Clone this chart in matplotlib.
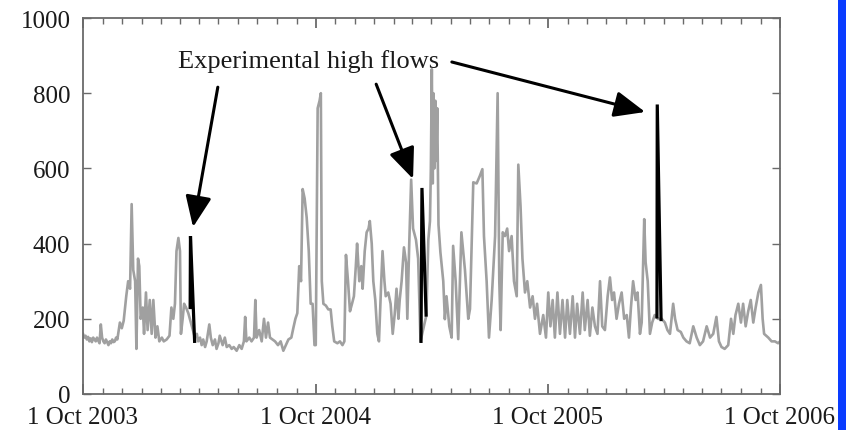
import numpy as np
import matplotlib
matplotlib.use("Agg")
import matplotlib.pyplot as plt
import matplotlib.dates as mdates
from matplotlib.patches import Rectangle

# ---- data: days since 1 Oct 2003, daily flow ----
flow_days = [
    0, 2, 4, 6, 8, 10, 12, 14, 16, 18, 20, 22, 24, 26, 28, 30, 32, 34, 36, 38, 40, 42, 44, 46, 48, 50, 52, 54,
    58, 61, 64, 68, 71, 74, 76.5, 79, 82, 84, 86.5, 88.5, 90.7, 94, 96, 99, 101.6, 105, 108, 110.6, 114, 117, 120,
    124, 127, 131.5, 136, 139, 142, 144.6, 147, 150, 152.5, 154, 156.7, 159, 162, 165.6, 168,
    176, 179, 181, 184, 186.6, 189, 192, 194.5, 198.6, 201, 204, 207.5, 210, 213, 215, 219.6, 223, 226, 230,
    233.8, 237, 241.6, 245.8, 249.5, 253, 255, 257, 261.5, 265, 268.9, 271, 273, 277, 281, 284.6, 287.7, 291,
    294, 298, 302, 306.6, 310.8, 315, 319, 323, 327.6, 330.7, 334, 337, 340, 342.8, 345.4, 348.5, 351.7, 355,
    358, 361, 364, 366, 369, 372, 374, 375.5, 378, 382, 385.7, 389.4, 392, 395, 400, 404, 408, 411, 413.5,
    416.7, 419.8, 423, 426, 429, 431, 434.5, 437.6, 439.7, 443, 446, 449, 451, 454, 456.5, 459.6, 462.8, 465.4,
    469, 471, 474, 476, 480, 483.7, 487, 490, 493, 496, 498, 501, 504.7, 508, 510, 513, 516, 519, 523.6, 527, 530.7,
    540, 543, 545.6, 547, 548.5, 550, 551, 552.5, 554, 555.5, 557, 559, 562, 566.5, 569, 571.6, 576, 579.7, 582,
    586, 590, 595, 600.6, 605.8, 608.5, 613.7, 619, 624, 628, 630.5, 634.7, 638.4, 642.6, 648, 652, 654.6, 656.7,
    660, 663.5, 667, 670, 674, 677.7, 682, 684.5, 688, 691, 695, 698.6, 703, 707, 710.7, 714, 718.6, 723.7, 728,
    731.6, 735, 738.5, 742, 746, 750, 754, 758, 761.5, 765.7, 770, 773.6, 777, 781.4, 785.7, 789, 793.5, 797, 801,
    805, 809, 813, 816.5, 820.7, 825, 828.6, 832, 835, 839, 842.8, 847, 851, 855, 858.5, 861.6, 865, 869, 872,
    875.8, 878.5, 882.5, 884.7, 888, 891.5, 895, 899, 904, 910, 915, 919, 923, 928, 931, 935, 940, 944, 949, 954,
    959.6, 965, 970, 975, 980.7, 986, 991, 996, 1000, 1004, 1009, 1014.6, 1019, 1022.6, 1026, 1030.4, 1034.6,
    1038, 1042, 1046, 1050, 1054, 1057.7, 1062, 1066, 1068.7, 1071, 1077.6, 1082.8, 1088, 1093, 1096,
]
flow_vals = [
    160, 150, 155, 145, 152, 140, 148, 138, 150, 145, 140, 150, 142, 135, 185, 150, 140, 135, 145, 138, 130, 140, 135, 145, 138, 140, 150, 145,
    190, 175, 195, 260, 300, 280, 505, 330, 300, 120, 360, 340, 200, 230, 160, 270, 170, 250, 160, 250, 150, 180, 140,
    150, 140, 145, 155, 230, 200, 240, 380, 415, 380, 160, 200, 240, 230, 215, 200,
    150, 160, 140, 150, 130, 145, 125, 140, 185, 150, 130, 145, 120, 135, 155, 130, 150, 125, 130,
    120, 125, 115, 130, 120, 140, 205, 140, 150, 140, 150, 250, 150, 170, 140, 200, 150, 190,
    150, 145, 140, 130, 140, 115, 130, 145, 150, 175, 200, 215, 340, 300, 545, 520, 470, 380,
    240, 240, 130, 130, 760, 780, 800, 300, 240, 235, 225, 225, 180, 140, 135, 140, 130, 140, 370,
    300, 220, 240, 260, 340, 400, 300, 340, 280, 380, 430, 440, 460, 400, 300, 250, 160, 140,
    300, 380, 300, 260, 270, 240, 160, 210, 280, 200, 250, 300, 390, 350, 200, 400, 570, 440, 410, 360, 140,
    210, 410, 460, 600, 864, 560, 800, 600, 780, 620, 760, 450, 377, 300, 199, 260, 180, 150, 394,
    300, 146, 430, 330, 200, 226, 563, 560, 580, 598, 420, 300, 150, 250, 420, 800, 300, 170,
    430, 420, 440, 380, 420, 300, 260, 610, 500, 360, 270, 300, 230, 260, 200, 240, 160, 210, 150,
    270, 180, 250, 150, 270, 160, 250, 150, 250, 160, 260, 150, 240, 160, 270, 170, 250, 155, 230,
    180, 160, 300, 180, 170, 260, 310, 250, 270, 200, 240, 270, 200, 210, 150, 230, 300, 250, 270,
    160, 190, 465, 350, 300, 160, 190, 210, 200, 200, 190, 170, 160, 240, 200, 170, 165, 150, 140, 135,
    180, 150, 130, 140, 180, 150, 160, 205, 140, 125, 120, 130, 200, 160, 210, 240, 190,
    240, 180, 220, 250, 190, 230, 270, 290, 200, 160, 150, 140, 140, 135, 140,
]

# experimental high-flow releases (black)
hfe1_days = [168.5, 169, 175.5]
hfe1_vals = [230, 420, 140]
hfe2_days = [531.5, 533, 539.5]
hfe2_vals = [140, 548, 210]
hfe3_days = [902.5, 903, 909]
hfe3_vals = [205, 770, 198]

y_ticks = [0, 200, 400, 600, 800, 1000]
x_tick_labels = ["1 Oct 2003", "1 Oct 2004", "1 Oct 2005", "1 Oct 2006"]
annotation_text = "Experimental high flows"

base = np.datetime64("2003-10-01")


def to_dates(days):
    return base + (np.array(days) * 24 * 3600).astype("timedelta64[s]")


plt.rcParams["font.family"] = ["Liberation Serif", "DejaVu Serif"]

fig = plt.figure(figsize=(8.54, 4.31), dpi=100)
ax = fig.add_axes([83 / 854, 36 / 431, 697 / 854, 376 / 431])

ax.plot(to_dates(flow_days), flow_vals, color="#a0a0a0", lw=1.9, zorder=2)
for d, v in [(hfe1_days, hfe1_vals), (hfe2_days, hfe2_vals), (hfe3_days, hfe3_vals)]:
    ax.plot(to_dates(d), v, color="black", lw=2.3, zorder=3, solid_joinstyle="miter")

ax.set_xlim(base, np.datetime64("2006-10-01"))
ax.set_ylim(0, 1000)
ax.set_yticks(y_ticks)
ax.set_yticklabels([str(t) for t in y_ticks])

major = [np.datetime64(f"{y}-10-01") for y in (2003, 2004, 2005, 2006)]
ax.set_xticks(mdates.date2num(major))
ax.set_xticklabels(x_tick_labels)
ax.xaxis.set_minor_locator(mdates.MonthLocator())

for s in ax.spines.values():
    s.set_color("#6a6a6a")
    s.set_linewidth(1.3)

ax.tick_params(axis="both", which="both", direction="in", top=True, right=True,
               colors="#6a6a6a", labelcolor="#1a1a1a")
ax.tick_params(axis="x", which="major", length=7, width=1.3, labelsize=18, pad=8.5)
ax.tick_params(axis="x", which="minor", length=4, width=1.0)
ax.tick_params(axis="y", which="major", length=6, width=1.0, labelsize=18, pad=9)

# annotation text and arrows
ax.text(mdates.date2num(to_dates([149])[0]), 888, annotation_text,
        fontsize=19, ha="left", va="center", color="#1a1a1a", zorder=5)

arrows = [((212, 816), (173, 444)), ((461, 824), (519, 572)), ((580, 883), (884, 750))]
aprops = dict(arrowstyle="-|>,head_length=0.9,head_width=0.38", color="black", lw=2.2,
              shrinkA=0, shrinkB=0, mutation_scale=21)
for (td, tv), (hd, hv) in arrows:
    ax.annotate("", xy=(mdates.date2num(to_dates([hd])[0]), hv),
                xytext=(mdates.date2num(to_dates([td])[0]), tv),
                arrowprops=aprops, zorder=6)

fig.add_artist(Rectangle((838 / 854, 0), 8 / 854, 1, transform=fig.transFigure,
                         facecolor="#0a3cff", edgecolor="none"))

fig.savefig("out.png", dpi=100)
